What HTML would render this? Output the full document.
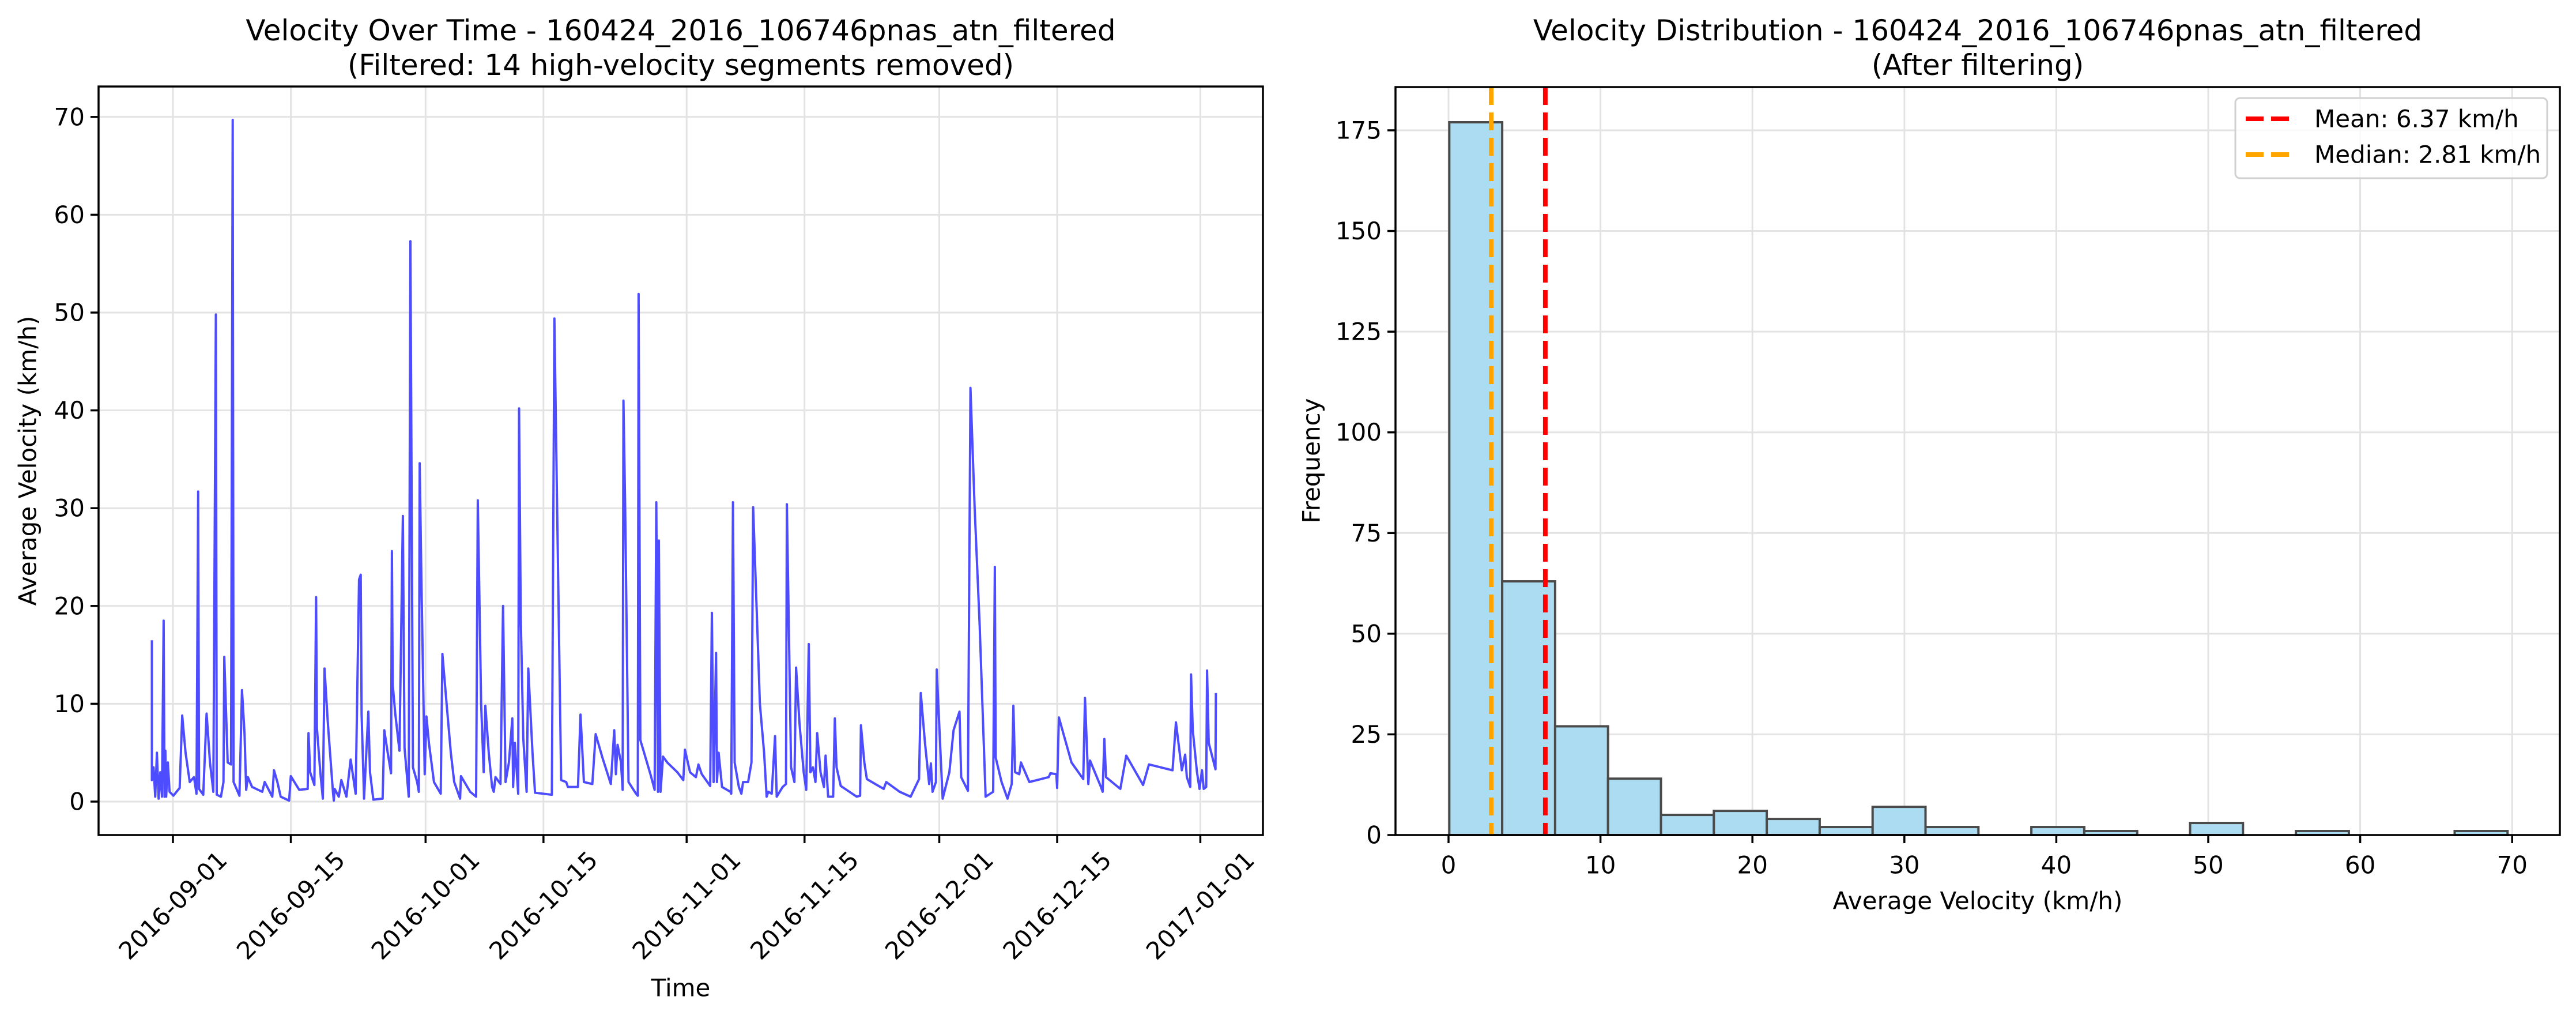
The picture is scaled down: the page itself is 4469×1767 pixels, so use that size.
<!DOCTYPE html>
<html><head><meta charset="utf-8"><style>
html,body{margin:0;padding:0;background:#fff;}
svg{display:block;font-family:"DejaVu Sans","Liberation Sans",sans-serif;}
</style></head><body>
<svg id="fig" width="4469" height="1767" viewBox="0 0 4469 1767" xmlns="http://www.w3.org/2000/svg">
<rect width="4469" height="1767" fill="#fff"/>
<g id="left"></g>
<g id="right"></g>
</svg>
<script>
// ---- Left chart data (days since 2016-09-01, km/h) ----
const days = [-2.5,-2.5,-2.3,-2.1,-1.9,-1.7,-1.5,-1.3,-1.1,-1.0,-0.9,-0.8,-0.6,-0.4,0.05,0.8,1.1,1.5,2.0,2.5,2.8,3.0,3.1,3.6,4.0,4.4,4.8,5.1,5.2,5.7,6.0,6.1,6.5,6.9,7.1,7.2,7.9,8.2,8.5,8.7,8.9,9.4,10.6,10.9,11.8,12.0,12.4,12.8,13.8,14.0,15.0,16.0,16.1,16.3,16.8,17.0,17.1,17.5,17.8,18.0,18.4,19.0,19.1,19.2,19.7,20.0,20.6,21.1,21.7,22.1,22.3,22.4,22.7,23.2,23.4,23.8,24.9,25.1,25.5,25.9,26.0,26.1,26.4,26.9,27.3,27.5,28.0,28.2,28.5,29.0,29.2,29.3,29.5,29.9,30.1,30.4,31.0,31.8,32.0,32.5,33.0,33.4,34.1,34.2,35.3,36.0,36.2,36.6,36.9,37.1,37.5,37.9,38.1,38.3,38.9,39.2,39.5,39.9,40.3,40.4,40.6,41.0,41.1,41.3,41.6,42.0,42.2,42.7,43.0,45.0,45.3,45.5,46.1,46.7,46.9,48.1,48.4,48.8,49.8,50.2,51.0,52.0,52.4,52.6,52.8,53.2,53.4,53.5,53.7,54.1,55.0,55.2,55.3,55.5,56.7,57.2,57.4,57.6,57.7,57.9,58.2,58.7,59.9,60.6,60.8,61.4,62.1,62.4,62.8,63.8,64.0,64.2,64.5,64.6,64.8,65.2,66.2,66.3,66.5,66.7,67.2,67.5,67.7,68.3,68.7,68.9,69.3,69.7,70.2,70.5,70.7,71.1,71.5,71.7,72.4,72.8,72.9,73.4,73.8,74.0,74.4,74.9,75.2,75.5,75.7,76.0,76.3,76.5,76.9,77.3,77.5,77.8,78.4,78.6,78.8,79.3,81.2,81.6,81.7,82.1,82.4,84.4,84.7,86.3,87.6,88.6,88.8,89.3,89.8,90.0,90.2,90.6,90.7,91.2,91.4,92.2,92.7,93.4,93.6,94.4,94.7,95.2,95.8,96.5,97.4,97.6,97.7,98.4,99.1,99.6,99.8,100.0,100.5,100.7,101.7,104.0,104.2,104.9,105.0,105.2,106.7,108.1,108.3,108.7,108.9,110.2,110.4,110.6,110.8,112.5,113.2,115.2,115.9,118.7,119.1,119.8,120.2,120.4,120.8,120.9,121.1,121.6,121.9,122.2,122.4,122.7,122.8,123.0,123.8,123.85];
const speeds = [16.5,2.2,3.5,0.5,5,0.3,3,0.5,18.5,0.5,5.2,0.5,4,1,0.6,1.4,8.8,5,2,2.5,0.8,31.7,1.3,0.7,9,4,1,49.8,0.7,0.5,2,14.8,4,3.8,69.7,2,0.6,11.4,7,1.2,2.5,1.5,1,2,0.5,3.2,2,0.5,0.1,2.6,1.2,1.3,7,3,1.7,20.9,7.5,3,0.3,13.6,8,1,0.1,1.3,0.5,2.2,0.5,4.3,0.8,22.7,23.2,9,0.3,9.2,3,0.2,0.3,7.3,5,2.9,25.6,12,9,5.2,29.2,5.5,0.5,57.3,3.5,2,1,34.6,23,2.8,8.7,6,2,0.8,15.1,10,5,2,0.3,2.6,1,0.5,30.8,10,3,9.8,5,1.5,1,2.5,1.8,20,2,4,8.5,1.5,6,0.8,40.2,19,6.5,1,13.6,5,0.9,0.7,49.4,37,2.2,2,1.5,1.5,8.9,2,1.8,6.9,4.5,1.8,7.3,2.8,5.8,4,1.2,41,30,2,0.8,0.6,51.9,6.3,2.8,1.2,30.6,1,26.7,1,4.6,4,3,2.2,5.3,3,2.5,3.8,2.8,1.6,19.3,2,15.2,2,5,1.5,1,0.8,30.6,4,1.5,0.8,2,2,4,30.1,20,10,5,0.5,1,0.8,6.7,0.5,1.5,1.8,30.4,3.5,2,13.7,8,3,1.2,16.1,3,3.5,2,7,3,1.5,4.7,0.5,0.5,8.5,3.5,1.6,0.5,0.6,7.8,4,2.3,1.3,2,1,0.5,2.3,11.1,6,1.8,3.9,1,2,13.5,4,0.3,3,7.3,9.2,2.5,1.1,42.3,30,18,0.5,1,24,4.5,2,0.3,1.8,9.8,3,2.8,4,2,2.5,2.9,2.8,1.4,8.6,4,2.3,10.6,1.8,4.2,1.5,1,6.4,2.5,1.3,4.7,1.7,3.8,3.2,8.1,3.2,4.8,2.5,1.5,13,7.3,3,1.3,3.2,1.3,1.5,13.4,6,3.3,11.1];
const yTicksL = [0,10,20,30,40,50,60,70];
const xTickDays = [0,14,30,44,61,75,91,105,122];
const xTickLabels = ["2016-09-01","2016-09-15","2016-10-01","2016-10-15","2016-11-01","2016-11-15","2016-12-01","2016-12-15","2017-01-01"];

// ---- Right chart data ----
const counts = [177,63,27,14,5,6,4,2,7,2,0,2,1,0,3,0,1,0,0,1];
const binMin = [0.05];
const binMax = [69.7];
const meanVal = [6.37];
const medianVal = [2.81];
const xTicksR = [0,10,20,30,40,50,60,70];
const yTicksR = [0,25,50,75,100,125,150,175];

const NS = "http://www.w3.org/2000/svg";
function mk(parent, tag, attrs, text){
  const e = document.createElementNS(NS, tag);
  for (const k in attrs) e.setAttribute(k, attrs[k]);
  if (text !== undefined) e.textContent = text;
  parent.appendChild(e);
  return e;
}
const L = document.getElementById('left');
const R = document.getElementById('right');

// Left axes
const lx0=171, lx1=2191, ly0=150, ly1=1448;
const xL = d => 300 + d*14.61;
const yL = v => 1390 - v*16.96;
// grid
yTicksL.forEach(v=>{
  const g = mk(L,'line',{x1:lx0,x2:lx1,y1:yL(v),y2:yL(v),stroke:'#e3e3e3','stroke-width':3});
  
  
});
xTickDays.forEach(d=>{
  const g = mk(L,'line',{x1:xL(d),x2:xL(d),y1:ly0,y2:ly1,stroke:'#e3e3e3','stroke-width':3});
  
  
});
// line
let pts = days.map((d,i)=>xL(d).toFixed(1)+','+yL(speeds[i]).toFixed(1)).join(' ');
const pl = mk(L,'polyline',{points:pts,fill:'none',stroke:'#4d4dff','stroke-width':4,'stroke-linejoin':'round'});


// frame
const fr = mk(L,'rect',{x:lx0,y:ly0,width:lx1-lx0,height:ly1-ly0,fill:'none',stroke:'#000','stroke-width':3.5});


yTicksL.forEach(v=>{
  mk(L,'line',{x1:lx0-14,x2:lx0,y1:yL(v),y2:yL(v),stroke:'#000','stroke-width':3.5});
  const t = mk(L,'text',{x:lx0-24,y:yL(v),'font-size':42,'text-anchor':'end','dominant-baseline':'central'},String(v));
  
  
});
xTickDays.forEach((d,i)=>{
  mk(L,'line',{x1:xL(d),x2:xL(d),y1:ly1,y2:ly1+14,stroke:'#000','stroke-width':3.5});
  const t = mk(L,'text',{x:xL(d),y:1570,'font-size':42,'text-anchor':'middle','dominant-baseline':'central',transform:`rotate(-45 ${xL(d)} 1570)`},xTickLabels[i]);
  
  
});
let t;
t = mk(L,'text',{x:1181,y:70,'font-size':50,'text-anchor':'middle'},'Velocity Over Time - 160424_2016_106746pnas_atn_filtered');


t = mk(L,'text',{x:1181,y:130,'font-size':50,'text-anchor':'middle'},'(Filtered: 14 high-velocity segments removed)');


t = mk(L,'text',{x:1181,y:1713,'font-size':42,'text-anchor':'middle','dominant-baseline':'central'},'Time');


t = mk(L,'text',{x:48,y:799,'font-size':42,'text-anchor':'middle','dominant-baseline':'central',transform:'rotate(-90 48 799)'},'Average Velocity (km/h)');



// Right axes
const rx0=2421, rx1=4441, ry0=151, ry1=1448;
const xR = v => 2513 + v*26.36;
const yR = c => 1448 - c*6.983;
yTicksR.forEach(v=>{
  const g = mk(R,'line',{x1:rx0,x2:rx1,y1:yR(v),y2:yR(v),stroke:'#e3e3e3','stroke-width':3});
  
  
});
xTicksR.forEach(v=>{
  const g = mk(R,'line',{x1:xR(v),x2:xR(v),y1:ry0,y2:ry1,stroke:'#e3e3e3','stroke-width':3});
  
  
});
const bw = (binMax[0]-binMin[0])/counts.length;
counts.forEach((c,i)=>{
  const a = binMin[0]+i*bw, b = a+bw;
  const r = mk(R,'rect',{x:xR(a),y:yR(c),width:xR(b)-xR(a),height:yR(0)-yR(c),fill:'#abdcf1',stroke:'#4a4a4a','stroke-width':4});
  
  
});
const med = mk(R,'line',{x1:xR(medianVal[0]),x2:xR(medianVal[0]),y1:ry0,y2:ry1,stroke:'#ffa500','stroke-width':8,'stroke-dasharray':'31 13'});


const mean = mk(R,'line',{x1:xR(meanVal[0]),x2:xR(meanVal[0]),y1:ry0,y2:ry1,stroke:'#ff0000','stroke-width':8,'stroke-dasharray':'31 13'});


const fr2 = mk(R,'rect',{x:rx0,y:ry0,width:rx1-rx0,height:ry1-ry0,fill:'none',stroke:'#000','stroke-width':3.5});


yTicksR.forEach(v=>{
  mk(R,'line',{x1:rx0-14,x2:rx0,y1:yR(v),y2:yR(v),stroke:'#000','stroke-width':3.5});
  const tt = mk(R,'text',{x:rx0-24,y:yR(v),'font-size':42,'text-anchor':'end','dominant-baseline':'central'},String(v));
  
  
});
xTicksR.forEach(v=>{
  mk(R,'line',{x1:xR(v),x2:xR(v),y1:ry1,y2:ry1+14,stroke:'#000','stroke-width':3.5});
  const tt = mk(R,'text',{x:xR(v),y:1500,'font-size':42,'text-anchor':'middle','dominant-baseline':'central'},String(v));
  
  
});
t = mk(R,'text',{x:3431,y:70,'font-size':50,'text-anchor':'middle'},'Velocity Distribution - 160424_2016_106746pnas_atn_filtered');


t = mk(R,'text',{x:3431,y:130,'font-size':50,'text-anchor':'middle'},'(After filtering)');


t = mk(R,'text',{x:3431,y:1562,'font-size':42,'text-anchor':'middle','dominant-baseline':'central'},'Average Velocity (km/h)');


t = mk(R,'text',{x:2275,y:799,'font-size':42,'text-anchor':'middle','dominant-baseline':'central',transform:'rotate(-90 2275 799)'},'Frequency');


// legend
const lg = mk(R,'g',{});


mk(lg,'rect',{x:3878,y:170,width:541,height:139,rx:8,fill:'#fff','fill-opacity':0.8,stroke:'#d0d0d0','stroke-width':3});
mk(lg,'line',{x1:3896,x2:3971,y1:206,y2:206,stroke:'#ff0000','stroke-width':8,'stroke-dasharray':'31 13'});
mk(lg,'line',{x1:3896,x2:3971,y1:268,y2:268,stroke:'#ffa500','stroke-width':8,'stroke-dasharray':'31 13'});
t = mk(lg,'text',{x:4015,y:206,'font-size':42,'dominant-baseline':'central'},'Mean: 6.37 km/h');


t = mk(lg,'text',{x:4015,y:268,'font-size':42,'dominant-baseline':'central'},'Median: 2.81 km/h');


</script>
</body></html>
